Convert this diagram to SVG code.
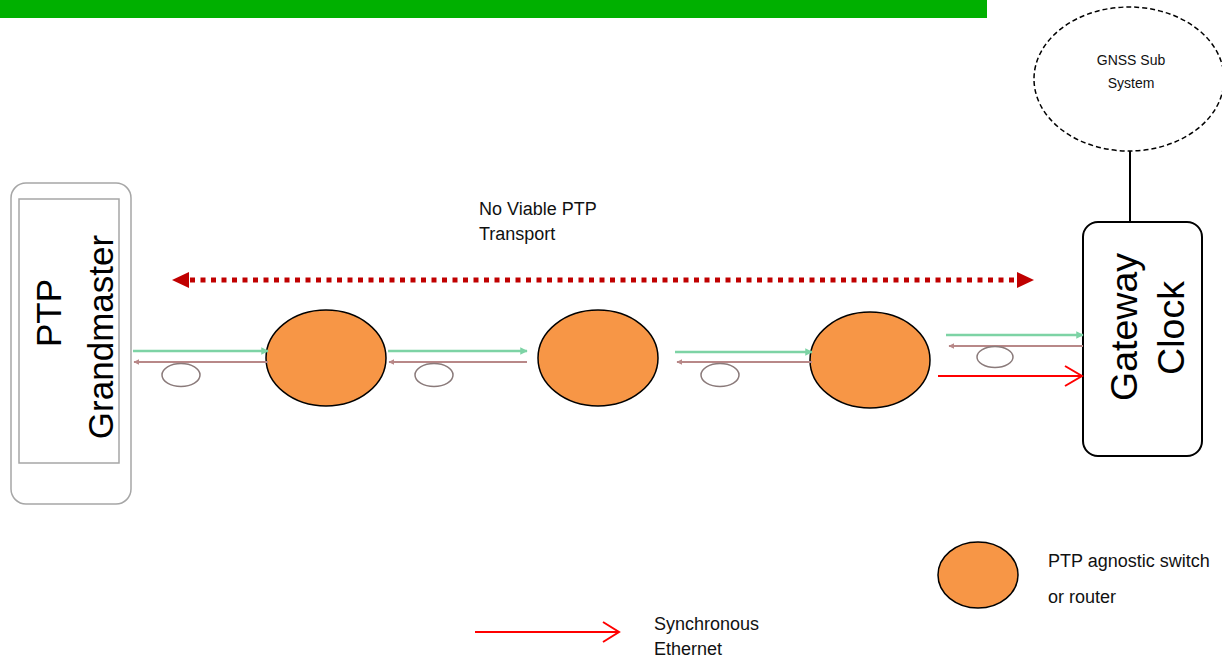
<svg xmlns="http://www.w3.org/2000/svg" width="1222" height="659" viewBox="0 0 1222 659">
  <style>
    .big { font-family: "Liberation Sans", Arial, sans-serif; font-size: 35px; fill: #000; }
    .gw { font-family: "Liberation Sans", Arial, sans-serif; font-size: 37.5px; fill: #000; }
    .lbl { font-family: "Liberation Sans", Arial, sans-serif; font-size: 18px; fill: #111; }
    .sml { font-family: "Liberation Sans", Arial, sans-serif; font-size: 14px; fill: #111; }
    .sw { fill: #f79646; stroke: #000; stroke-width: 1.5; }
    .grn { stroke: #7dd3a5; stroke-width: 2.5; fill: none; }
    .brn { stroke: #b88888; stroke-width: 2; fill: none; }
    .loop { stroke: #8a7a7a; stroke-width: 1.5; fill: none; }
    .sync { stroke: #ff0000; stroke-width: 2; fill: none; }
  </style>
  <defs>
    <marker id="gh" viewBox="0 0 10 10" refX="9" refY="5" markerWidth="3" markerHeight="3" orient="auto">
      <path d="M0,0 L10,5 L0,10 z" fill="#7dd3a5"/>
    </marker>
    <marker id="bh" viewBox="0 0 10 10" refX="9" refY="5" markerWidth="3" markerHeight="3" orient="auto">
      <path d="M0,0 L10,5 L0,10 z" fill="#b88888"/>
    </marker>
  </defs>

  <rect id="topbar" x="0" y="0" width="987" height="18" fill="#00b000"/>

  <g id="grandmaster">
    <rect x="11" y="183" width="120" height="321" rx="15" fill="#fff" stroke="#a6a6a6" stroke-width="1.5"/>
    <rect x="19" y="199" width="100" height="264" fill="none" stroke="#a6a6a6" stroke-width="1.5"/>
    <text class="big" text-anchor="middle" transform="translate(61,313) rotate(-90)">PTP</text>
    <text class="big" text-anchor="middle" transform="translate(113,337) rotate(-90)">Grandmaster</text>
  </g>

  <g id="gnss">
    <ellipse cx="1129" cy="79" rx="95" ry="72" fill="#fff" stroke="#000" stroke-width="1.5" stroke-dasharray="5,3"/>
    <text class="sml" x="1131" y="65" text-anchor="middle">GNSS Sub</text>
    <text class="sml" x="1131" y="88" text-anchor="middle">System</text>
  </g>

  <g id="gateway">
    <rect x="1083" y="222" width="119" height="234" rx="15" fill="#fff" stroke="#000" stroke-width="2"/>
    <text class="gw" text-anchor="middle" transform="translate(1137,327) rotate(-90)">Gateway</text>
    <text class="gw" text-anchor="middle" transform="translate(1184,328) rotate(-90)">Clock</text>
  </g>

  <g id="switch1"><ellipse class="sw" cx="326" cy="358" rx="60" ry="48"/></g>
  <g id="switch2"><ellipse class="sw" cx="598" cy="358" rx="60" ry="48"/></g>
  <g id="switch3"><ellipse class="sw" cx="870" cy="360" rx="60" ry="48"/></g>

  <g id="no-viable-label">
    <text class="lbl" x="479" y="215">No Viable PTP</text>
    <text class="lbl" x="479" y="240">Transport</text>
  </g>

  <g id="connectors">
    <line x1="1130" y1="151" x2="1130" y2="222" stroke="#000" stroke-width="2"/>
    <line x1="190" y1="280" x2="1018" y2="280" stroke="#c00000" stroke-width="5" stroke-dasharray="5,5.5"/>
    <path d="M172,280 L189,272 L189,288 z" fill="#c00000"/>
    <path d="M1034,280 L1017,272 L1017,288 z" fill="#c00000"/>

    <line class="grn" x1="133" y1="351" x2="268" y2="351" marker-end="url(#gh)"/>
    <line class="brn" x1="268" y1="362" x2="134" y2="362" marker-end="url(#bh)"/>
    <ellipse class="loop" cx="181" cy="375" rx="19" ry="11.5"/>

    <line class="grn" x1="388" y1="351" x2="527" y2="351" marker-end="url(#gh)"/>
    <line class="brn" x1="527" y1="362" x2="389" y2="362" marker-end="url(#bh)"/>
    <ellipse class="loop" cx="434" cy="375" rx="19" ry="11.5"/>

    <line class="grn" x1="675" y1="352" x2="812" y2="352" marker-end="url(#gh)"/>
    <line class="brn" x1="812" y1="362" x2="677" y2="362" marker-end="url(#bh)"/>
    <ellipse class="loop" cx="720" cy="375" rx="19" ry="11.5"/>

    <line class="grn" x1="946" y1="335" x2="1083" y2="335" marker-end="url(#gh)"/>
    <line class="brn" x1="1083" y1="346" x2="949" y2="346" marker-end="url(#bh)"/>
    <ellipse class="loop" cx="995" cy="357" rx="18" ry="10.5"/>

    <line class="sync" x1="938" y1="376" x2="1082" y2="376"/>
    <path class="sync" d="M1065,366 L1082,376 L1065,386"/>
  </g>

  <g id="legend-switch">
    <ellipse class="sw" cx="978" cy="575" rx="40" ry="33"/>
    <text class="lbl" x="1048" y="567">PTP agnostic switch</text>
    <text class="lbl" x="1048" y="603">or router</text>
  </g>

  <g id="legend-sync">
    <line class="sync" x1="475" y1="632" x2="619" y2="632"/>
    <path class="sync" d="M603,622 L619,632 L603,642"/>
    <text class="lbl" x="654" y="630">Synchronous</text>
    <text class="lbl" x="654" y="655">Ethernet</text>
  </g>
</svg>
